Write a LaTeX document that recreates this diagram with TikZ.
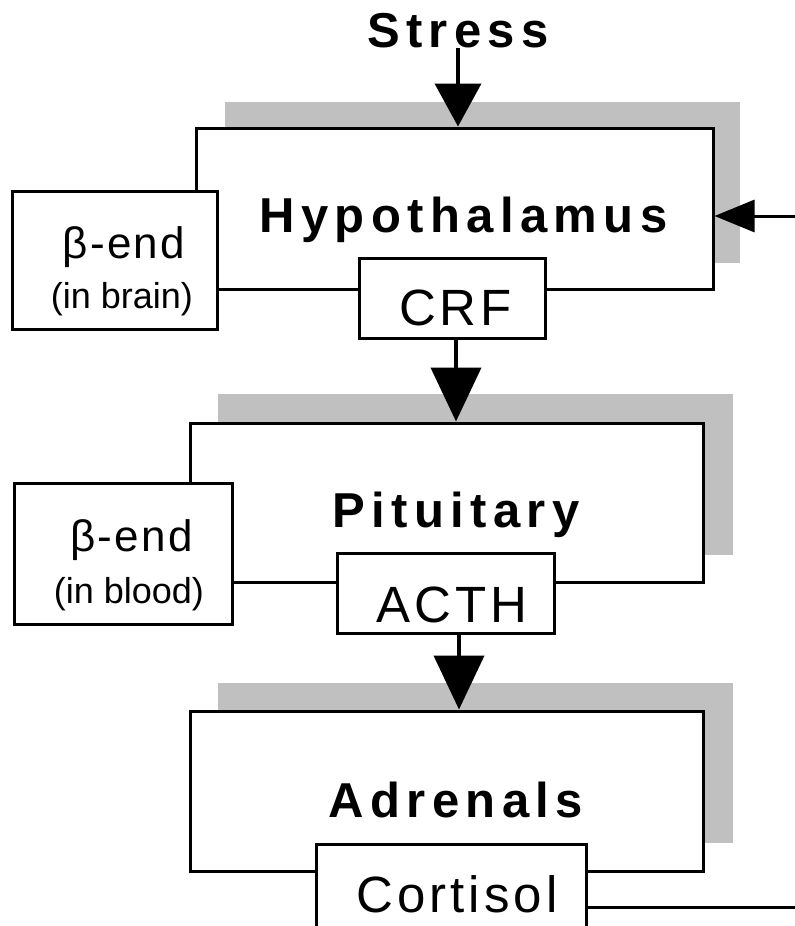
\documentclass[tikz,border=0pt]{standalone}
\usepackage{fontspec}
\setmainfont{Liberation Sans}
\newfontfamily\hdfont{Liberation Sans}[LetterSpace=13]
\newfontfamily\hormfont{Liberation Sans}[LetterSpace=8]
\newfontfamily\betafont{Liberation Sans}[LetterSpace=5]
\usetikzlibrary{arrows.meta}
\definecolor{shade}{HTML}{C0C0C0}
\tikzset{
 organ/.style={draw=black, line width=3bp, fill=white, rectangle, inner sep=0pt},
 shadowbox/.style={fill=shade, draw=none, rectangle, inner sep=0pt},
 hd/.style={anchor=base, inner sep=0pt, font=\hdfont\bfseries\fontsize{49bp}{55bp}\selectfont},
 horm/.style={anchor=base, inner sep=0pt, font=\hormfont\fontsize{51bp}{56bp}\selectfont},
 betatext/.style={anchor=base, inner sep=0pt, font=\betafont\fontsize{44bp}{48bp}\selectfont},
 parentext/.style={anchor=base, inner sep=0pt, font=\fontsize{36bp}{40bp}\selectfont},
 toparr/.style={line width=4bp, -{Triangle[length=43bp,width=46bp]}},
 bigarr/.style={line width=4bp, -{Triangle[length=54bp,width=50bp]}},
 sidearr/.style={line width=3bp, -{Triangle[length=40bp,width=32bp]}},
 plainline/.style={line width=3bp},
}
\begin{document}
\begin{tikzpicture}[x=1bp,y=-1bp]
\useasboundingbox (0,0) rectangle (795,926);
\clip (0,0) rectangle (795,926);
% shadows
\node[shadowbox, minimum width=515bp, minimum height=161bp] (hyposh) at (482.5,182.5) {};
\node[shadowbox, minimum width=515bp, minimum height=161bp] (pitsh) at (475.5,474.5) {};
\node[shadowbox, minimum width=515bp, minimum height=160bp] (adrsh) at (475.5,763) {};
% organ boxes
\node[organ, minimum width=516bp, minimum height=161bp] (hypo) at (455,208.5) {};
\node[organ, minimum width=512bp, minimum height=159bp] (pit) at (447,502.5) {};
\node[organ, minimum width=512bp, minimum height=160bp] (adr) at (447,791) {};
% small boxes
\node[organ, minimum width=204bp, minimum height=138bp] (bbrain) at (115,260) {};
\node[organ, minimum width=186bp, minimum height=80bp] (crf) at (452,298) {};
\node[organ, minimum width=217bp, minimum height=141bp] (bblood) at (123.5,553.5) {};
\node[organ, minimum width=217bp, minimum height=80bp] (acth) at (445.5,593) {};
\node[organ, minimum width=270bp, minimum height=106bp] (cort) at (451,897) {};
% texts
\node[hd] (stress) at (458,47) {Stress};
\node[hd] (hypot) at (463.5,232) {Hypothalamus};
\node[hd] (pitt) at (456,527) {Pituitary};
\node[hd] (adrt) at (456,817) {Adrenals};
\node[horm] (crft) at (455.5,325) {CRF};
\node[horm] (actht) at (452,622) {ACTH};
\node[horm] (cortt) at (457,912) {Cortisol};
\node[betatext] (b1) at (124,258) {β-end};
\node[parentext] (b1p) at (122,308) {(in brain)};
\node[betatext] (b2) at (131.5,551) {β-end};
\node[parentext] (b2p) at (129,603) {(in blood)};
% connectors
\draw[toparr] (stress.south) -- (stress.south |- hypo.north);
\draw[bigarr] ([xshift=4bp]crf.south) -- ([xshift=4bp]crf.south |- pit.north);
\draw[bigarr] ([xshift=13.5bp]acth.south) -- ([xshift=13.5bp]acth.south |- adr.north);
\coordinate (inR) at (795,216);
\draw[sidearr] (inR) -- (inR -| hypo.east);
\coordinate (outR) at (795,907);
\draw[plainline] (outR -| cort.east) -- (outR);
\end{tikzpicture}
\end{document}
